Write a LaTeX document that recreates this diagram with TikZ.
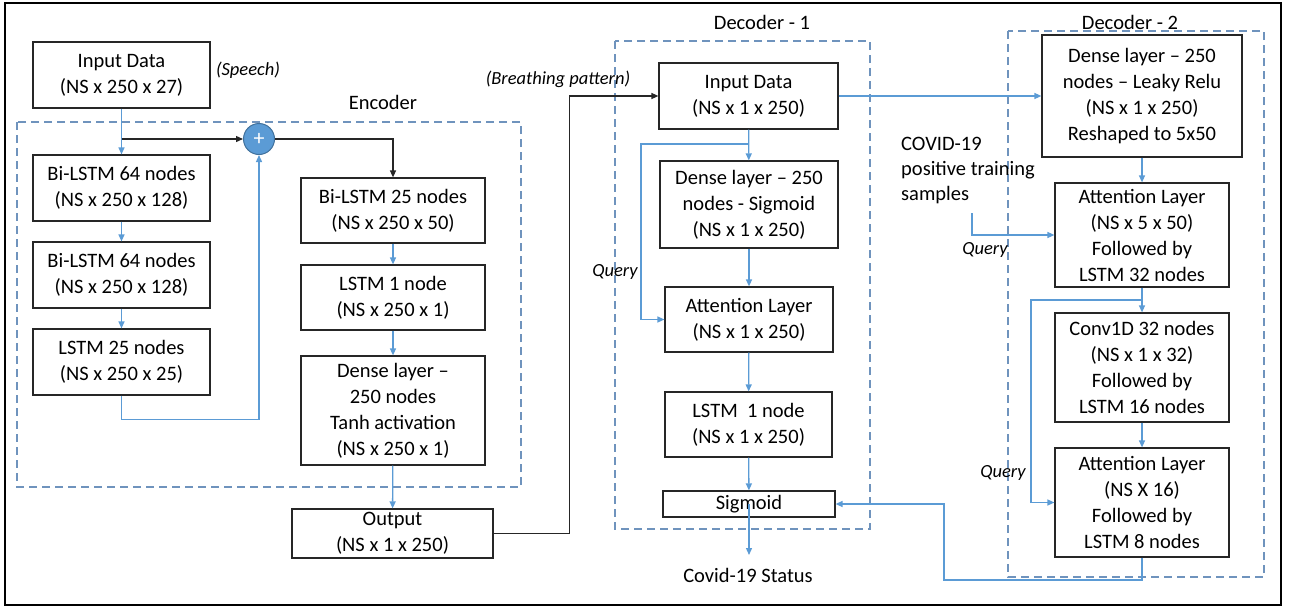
\documentclass[tikz,border=0pt]{standalone}
\usepackage{fontspec}
\setmainfont{Carlito}
\usepackage{xcolor}
\usetikzlibrary{arrows.meta}

\definecolor{flowblue}{HTML}{5B9BD5}
\definecolor{groupblue}{HTML}{6F93BD}
\definecolor{plusedge}{HTML}{41719C}

\begin{document}
\begin{tikzpicture}[
  x=1pt, y=-1pt,
  layer/.style={draw=black!85, line width=1.2pt, fill=white, align=center,
    inner sep=0pt, font=\fontsize{20.5}{26}\selectfont},
  group/.style={draw=groupblue, line width=1.3pt, dash pattern=on 8pt off 5pt},
  flow/.style={draw=flowblue, line width=1.3pt, -{Triangle[length=7pt,width=6pt]}},
  skip/.style={draw=black!85, line width=1.3pt, -{Triangle[length=7pt,width=6pt]}},
  grouplabel/.style={font=\fontsize{20.5}{26}\selectfont, inner sep=0pt},
  note/.style={font=\fontsize{18.5}{24}\selectfont\itshape, inner sep=0pt},
]
\useasboundingbox (0,0) rectangle (1289,608);

% outer frame
\draw[line width=2pt] (5,3) rectangle (1281,605);

% ─── Group outlines ──────────────────────────────────────────────────────
\draw[group] (17,122)   rectangle (521,487);
\draw[group] (615,41)   rectangle (870,529);
\draw[group] (1008,31)  rectangle (1264,577);

\node[grouplabel] (encL)  at (383,102)  {Encoder};
\node[grouplabel] (dec1L) at (762,22)   {Decoder - 1};
\node[grouplabel] (dec2L) at (1130,22)  {Decoder - 2};

% ─── Encoder ─────────────────────────────────────────────────────────────
\node[layer, minimum width=177pt, minimum height=66pt] (inS)  at (121.5,75)
    {Input Data\\(NS x 250 x 27)};
\node[note] (speech) at (248,70) {(Speech)};

\node[layer, minimum width=177pt, minimum height=66pt] (bl1)  at (121.5,188)
    {Bi-LSTM 64 nodes\\(NS x 250 x 128)};
\node[layer, minimum width=177pt, minimum height=66pt] (bl2)  at (121.5,275)
    {Bi-LSTM 64 nodes\\(NS x 250 x 128)};
\node[layer, minimum width=177pt, minimum height=66pt] (ls25) at (121.5,362)
    {LSTM 25 nodes\\(NS x 250 x 25)};

\node[circle, fill=flowblue, draw=plusedge, line width=1pt, minimum size=31pt,
      inner sep=0pt, text=white, font=\fontsize{22}{22}\selectfont] (plus) at (259,139) {+};

\node[layer, minimum width=184pt, minimum height=65pt] (bl25)  at (393,210.5)
    {Bi-LSTM 25 nodes\\(NS x 250 x 50)};
\node[layer, minimum width=184pt, minimum height=65pt] (ls1)   at (393,297.5)
    {LSTM 1 node\\(NS x 250 x 1)};
\node[layer, minimum width=184pt, minimum height=109pt] (dtanh) at (393,410.5)
    {Dense layer --\\250 nodes\\Tanh activation\\(NS x 250 x 1)};

\node[layer, minimum width=201pt, minimum height=49pt] (out) at (392.5,533.5)
    {Output\\(NS x 1 x 250)};

\draw[flow] (inS) -- (bl1);
\draw[flow] (bl1) -- (bl2);
\draw[flow] (bl2) -- (ls25);
\draw[flow] (ls25.south) -- ++(0,24) -| (plus.south);
\draw[skip] (inS.south |- plus.west) -- (plus.west);
\draw[skip] (plus.east) -| (bl25.north);
\draw[flow] (bl25) -- (ls1);
\draw[flow] (ls1) -- (dtanh);
\draw[flow] (dtanh) -- (out);

% ─── Decoder - 1 ─────────────────────────────────────────────────────────
\node[note] (breath) at (558,79) {(Breathing pattern)};

\node[layer, minimum width=179pt, minimum height=66pt] (d1in)    at (748.5,96)
    {Input Data\\(NS x 1 x 250)};
\node[layer, minimum width=178pt, minimum height=87pt] (d1dense) at (749,204.5)
    {Dense layer -- 250\\nodes - Sigmoid\\(NS x 1 x 250)};
\node[layer, minimum width=168pt, minimum height=65pt] (d1att)   at (749,319.5)
    {Attention Layer\\(NS x 1 x 250)};
\node[layer, minimum width=167pt, minimum height=65pt] (d1lstm)  at (748.5,424.5)
    {LSTM\ \ 1 node\\(NS x 1 x 250)};
\node[layer, minimum width=172pt, minimum height=26pt] (sig)     at (749,504)
    {Sigmoid};
\node[grouplabel] (status) at (748,575) {Covid-19 Status};

\node[note] (q1L) at (615,272) {Query};
\coordinate (qsplit) at (749,144);

\draw[skip] (out.east) -- ++(76,0) |- (d1in.west);
\draw[flow] (d1in) -- (d1dense);
\draw[flow] (qsplit) -- ++(-108,0) |- (d1att.west);
\draw[flow] (d1dense) -- (d1att);
\draw[flow] (d1att) -- (d1lstm);
\draw[flow] (d1lstm) -- (sig);
\draw[flow] (sig.center) -- ++(0,51);

% ─── Decoder - 2 ─────────────────────────────────────────────────────────
\node[layer, minimum width=200pt, minimum height=122pt] (d2dense) at (1142,96)
    {Dense layer -- 250\\nodes -- Leaky Relu\\(NS x 1 x 250)\\Reshaped to 5x50};
\node[layer, minimum width=174pt, minimum height=104pt] (d2att1)  at (1142,235)
    {Attention Layer\\(NS x 5 x 50)\\Followed by\\LSTM 32 nodes};
\node[layer, minimum width=174pt, minimum height=109pt] (conv)    at (1142,367.5)
    {Conv1D 32 nodes\\(NS x 1 x 32)\\Followed by\\LSTM 16 nodes};
\node[layer, minimum width=174pt, minimum height=109pt] (d2att2)  at (1142,502.5)
    {Attention Layer\\(NS X 16)\\Followed by\\LSTM 8 nodes};

\node[grouplabel, align=left, anchor=west, font=\fontsize{20.5}{25}\selectfont] (covid) at (901,170)
    {COVID-19\\positive training\\samples};
\node[note] (q2L) at (985,250)  {Query};
\node[note] (q3L) at (1003,473) {Query};

\coordinate (covq)    at (972,213);
\coordinate (q2split) at (1142,300);
\coordinate (fb)      at (944,580);

\draw[flow] (d1in) -- (d2dense);
\draw[flow] (d2dense) -- (d2att1);
\draw[flow] (covq) |- (d2att1.west);
\draw[flow] (d2att1) -- (conv);
\draw[flow] (q2split) -- ++(-111,0) |- (d2att2.west);
\draw[flow] (conv) -- (d2att2);
\draw[flow] (d2att2.south) |- (fb) |- (sig.east);

\end{tikzpicture}
\end{document}
